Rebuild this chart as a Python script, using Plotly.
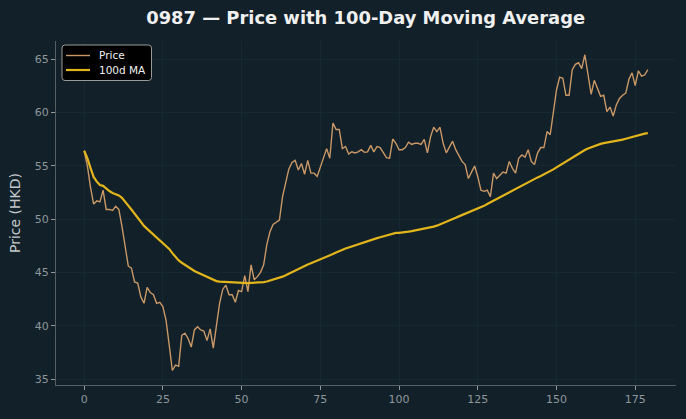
import pandas as pd
import plotly.graph_objects as go

days = list(range(180))
price = [
    56.4, 55.0, 53.0, 51.4, 51.7, 51.6, 52.7, 50.9, 50.9, 50.8,
    51.2, 50.9, 49.3, 47.4, 45.6, 45.4, 44.1, 44.0, 42.7, 42.1,
    43.6, 43.1, 42.9, 42.1, 42.2, 41.8, 40.5, 38.2, 35.8, 36.3,
    36.2, 39.1, 39.3, 38.8, 38.0, 39.6, 39.9, 39.6, 39.5, 38.6,
    39.7, 37.9, 39.9, 42.1, 43.4, 43.8, 42.9, 42.9, 42.2, 43.3,
    43.2, 44.7, 43.2, 45.7, 44.3, 44.6, 45.0, 45.7, 47.6, 48.8,
    49.5, 49.7, 49.9, 52.1, 53.3, 54.7, 55.3, 55.5, 54.6, 55.2,
    54.2, 55.5, 54.3, 54.3, 54.0, 54.9, 55.8, 56.6, 55.7, 59.0,
    58.4, 58.4, 56.6, 56.8, 56.1, 56.3, 56.2, 56.3, 56.5, 56.25,
    56.3, 56.9, 56.3, 56.8, 56.7, 56.2, 55.75, 55.7, 57.5, 57.1,
    56.5, 56.5, 56.7, 57.2, 57.0, 57.1, 57.1, 57.0, 57.47, 56.2,
    57.7, 58.6, 58.2, 58.6, 57.1, 56.2, 56.7, 57.3, 56.5, 55.9,
    55.4, 55.1, 53.8, 54.4, 54.97, 53.97, 52.7, 52.6, 52.7, 52.1,
    54.3, 53.8, 54.1, 54.4, 54.3, 55.4, 54.75, 54.3, 55.7, 56.0,
    55.8, 56.5, 55.4, 55.1, 56.2, 56.7, 56.7, 58.2, 57.9, 60.2,
    62.1, 63.3, 63.2, 61.6, 61.6, 64.0, 64.5, 64.65, 64.1, 65.4,
    63.65, 61.7, 63.0, 62.25, 61.5, 61.6, 60.06, 60.5, 59.66, 60.7,
    61.3, 61.6, 61.8, 63.1, 63.7, 62.5, 63.9, 63.4, 63.5, 64.0,
]
ma_window = 100
ma = pd.Series(price).rolling(ma_window, min_periods=1).mean().tolist()

x_ticks = [0, 25, 50, 75, 100, 125, 150, 175]
y_ticks = [35, 40, 45, 50, 55, 60, 65]
series_names = ["Price", "100d MA"]
series_colors = ["#c99866", "#e3b51c"]
series_widths = [1.4, 2.2]

BG = "#112029"
FONT = "DejaVu Sans"

fig = go.Figure()
for name, yv, col, w in zip(series_names, [price, ma], series_colors, series_widths):
    fig.add_trace(go.Scatter(x=days, y=yv, mode="lines", name=name,
                             line=dict(color=col, width=w), showlegend=False))

# custom legend box (paper coordinates)
PW, PH = 620.0, 344.0
def px(xp):
    return (xp - 56.0) / PW
def py(yp):
    return (385.0 - yp) / PH

x0, x1, y0, y1 = px(62), px(151.5), py(80.5), py(45)
rx, ry = 3 / PW, 3 / PH
path = (f"M {x0+rx},{y1} L {x1-rx},{y1} Q {x1},{y1} {x1},{y1-ry} "
        f"L {x1},{y0+ry} Q {x1},{y0} {x1-rx},{y0} L {x0+rx},{y0} "
        f"Q {x0},{y0} {x0},{y0+ry} L {x0},{y1-ry} Q {x0},{y1} {x0+rx},{y1} Z")
shapes = [dict(type="path", path=path, xref="paper", yref="paper",
               fillcolor="#000000", line=dict(color="#9a9a9a", width=1), layer="above")]
annotations = []
for k, (name, col, w) in enumerate(zip(series_names, series_colors, series_widths)):
    yy = py(55.5 + 14.5 * k)
    shapes.append(dict(type="line", xref="paper", yref="paper",
                       x0=px(66), x1=px(90), y0=yy, y1=yy,
                       line=dict(color=col, width=w), layer="above"))
    annotations.append(dict(x=px(97), y=yy, xref="paper", yref="paper",
                            text=name, showarrow=False, xanchor="left", yanchor="middle",
                            font=dict(family=FONT, size=10.5, color="#f0f0f0")))

fig.update_layout(
    width=686, height=419,
    paper_bgcolor=BG, plot_bgcolor=BG,
    margin=dict(l=56, r=10, t=41, b=34),
    font=dict(family=FONT, color="#8f979b", size=11),
    title=dict(text="<b>0987 — Price with 100-Day Moving Average</b>",
               x=0.533, xanchor="center", y=0.957, yanchor="middle",
               font=dict(family=FONT, size=17.9, color="#f0f0f0")),
    showlegend=False,
    shapes=shapes,
    annotations=annotations,
)
fig.update_xaxes(
    range=[-8.95, 187.95], tickvals=x_ticks, ticks="outside", ticklen=4,
    tickcolor="#8f979b", showline=True, linecolor="#555e62", linewidth=1,
    showgrid=True, gridcolor="#172930", gridwidth=1, zeroline=False,
    tickfont=dict(size=11, color="#8f979b"),
)
fig.update_yaxes(
    range=[34.44, 66.69], tickvals=y_ticks, ticks="outside", ticklen=4,
    tickcolor="#8f979b", showline=True, linecolor="#555e62", linewidth=1,
    showgrid=True, gridcolor="#172930", gridwidth=1, zeroline=False,
    tickfont=dict(size=11, color="#8f979b"),
    title=dict(text="Price (HKD)", font=dict(size=14, color="#c4c8ca"), standoff=10),
)

fig.write_html("out.html")
